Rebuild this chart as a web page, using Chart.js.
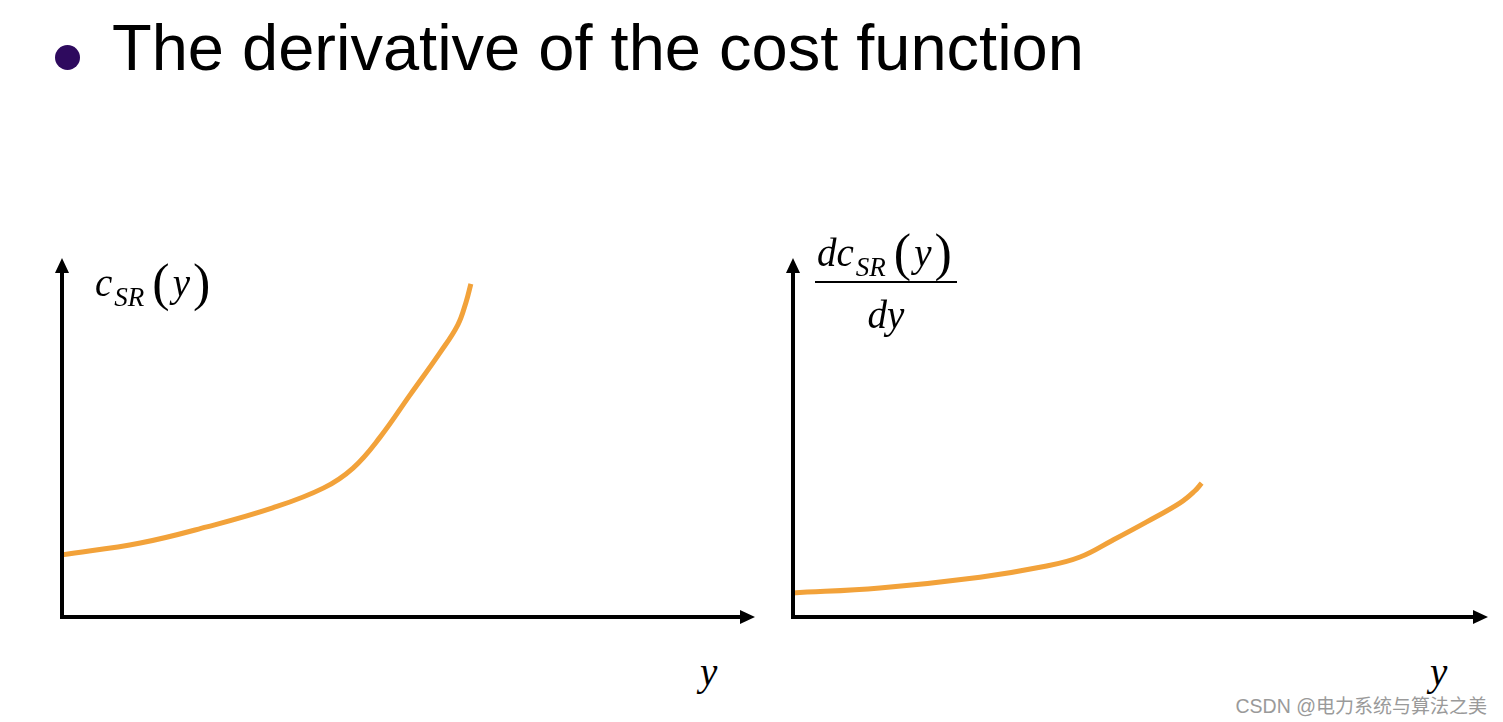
<!DOCTYPE html>
<html>
<head>
<meta charset="utf-8">
<script src="https://cdn.jsdelivr.net/npm/chart.js@4"></script>
<style>
  html, body { margin: 0; padding: 0; background: #fff; }
  body { width: 1503px; height: 722px; position: relative; overflow: hidden; }
  .title { position: absolute; left: 112px; top: 10px; font: 65px "Liberation Sans", Arial, sans-serif; color: #000; white-space: nowrap; }
  .bullet { position: absolute; left: 55px; top: 45px; width: 25px; height: 25px; border-radius: 50%; background: #2e0a5e; }
  canvas { position: absolute; }
  .math { position: absolute; font: italic 39px "Liberation Serif", "Times New Roman", serif; color: #000; white-space: nowrap; line-height: 1; }
  .math sub { font-size: 27px; vertical-align: -10px; margin-left: 2px; }
  .math .par { font-style: normal; font-size: 52px; vertical-align: -4px; margin: 0 3px; }
  .math .par.open { margin-left: 8px; }
  .frac { position: absolute; left: 815px; top: 227px; text-align: center; }
  .frac .num { padding: 0 2px 0; border-bottom: 2px solid #000; }
  .frac .den { padding-top: 12px; }
  .frac .num, .frac .den { display: block; position: static; }
  .mark { position: absolute; right: 16px; top: 691px; font: 19.5px "Liberation Sans", "Noto Sans CJK SC", sans-serif; color: #9a9a9a; }
  .mark .cjk { font-family: "Noto Sans CJK SC", sans-serif; font-size: 19px; }
</style>
</head>
<body>
<div class="bullet"></div>
<div class="title">The derivative of the cost function</div>

<canvas id="costChart" width="730" height="400" style="left:40px; top:240px;"></canvas>
<canvas id="derivChart" width="733" height="400" style="left:770px; top:240px;"></canvas>

<div class="math" style="left:95px; top:257px;">c<sub>SR</sub><span class="par open">(</span>y<span class="par">)</span></div>
<div class="math frac">
  <span class="math num">dc<sub>SR</sub><span class="par open">(</span>y<span class="par">)</span></span>
  <span class="math den">dy</span>
</div>
<div class="math" style="left:700px; top:652px;">y</div>
<div class="math" style="left:1430px; top:652px;">y</div>

<div class="mark">CSDN @<span class="cjk">电力系统与算法之美</span></div>

<script>
// ---------- Data (axis units 0..10, no ticks shown) ----------
const AXIS_MIN = 0;
const AXIS_MAX = 10;

// c_SR(y): short-run cost curve
const COST_X = [0, 1.13, 2.09, 3.04, 3.77, 4.2, 4.59, 5.02, 5.45, 5.71, 5.83, 5.9];
const COST_Y = [1.73, 2.06, 2.51, 3.04, 3.59, 4.15, 5.01, 6.18, 7.35, 8.13, 8.77, 9.28];

// dc_SR(y)/dy: its derivative
const DERIV_X = [0, 1.25, 2.69, 3.65, 4.13, 4.6, 5.09, 5.57, 5.78, 5.88];
const DERIV_Y = [0.67, 0.81, 1.11, 1.42, 1.67, 2.14, 2.65, 3.18, 3.51, 3.73];

const CURVE_COLOR = "#f2a23a";

// ---------- Axes with arrow heads ----------
const arrowAxes = {
  id: "arrowAxes",
  afterDatasetsDraw(chart) {
    const { ctx, chartArea: { left, right, top, bottom } } = chart;
    const head = 15, half = 7;
    ctx.save();
    ctx.strokeStyle = "#000";
    ctx.fillStyle = "#000";
    ctx.lineWidth = 4;
    ctx.beginPath();
    ctx.moveTo(left, top + head - 2);
    ctx.lineTo(left, bottom);
    ctx.lineTo(right - head + 2, bottom);
    ctx.stroke();
    // y arrow
    ctx.beginPath();
    ctx.moveTo(left, top);
    ctx.lineTo(left - half, top + head);
    ctx.lineTo(left + half, top + head);
    ctx.closePath();
    ctx.fill();
    // x arrow
    ctx.beginPath();
    ctx.moveTo(right, bottom);
    ctx.lineTo(right - head, bottom - half);
    ctx.lineTo(right - head, bottom + half);
    ctx.closePath();
    ctx.fill();
    ctx.restore();
  }
};

function curveChart(canvasId, xs, ys, padding) {
  return new Chart(document.getElementById(canvasId), {
    type: "scatter",
    data: {
      datasets: [{
        data: xs.map((x, i) => ({ x, y: ys[i] })),
        showLine: true,
        borderColor: CURVE_COLOR,
        borderWidth: 5,
        borderCapStyle: "butt",
        pointRadius: 0,
        tension: 0.4,
        clip: false
      }]
    },
    options: {
      responsive: false,
      animation: false,
      events: [],
      layout: { padding },
      plugins: { legend: { display: false }, tooltip: { enabled: false } },
      scales: {
        x: { type: "linear", min: AXIS_MIN, max: AXIS_MAX, display: false },
        y: { type: "linear", min: AXIS_MIN, max: AXIS_MAX, display: false }
      }
    },
    plugins: [arrowAxes]
  });
}

// ---------- Init ----------
curveChart("costChart", COST_X, COST_Y, { left: 22, top: 18, right: 15, bottom: 23 });
curveChart("derivChart", DERIV_X, DERIV_Y, { left: 23, top: 18, right: 15, bottom: 23 });
</script>
</body>
</html>
